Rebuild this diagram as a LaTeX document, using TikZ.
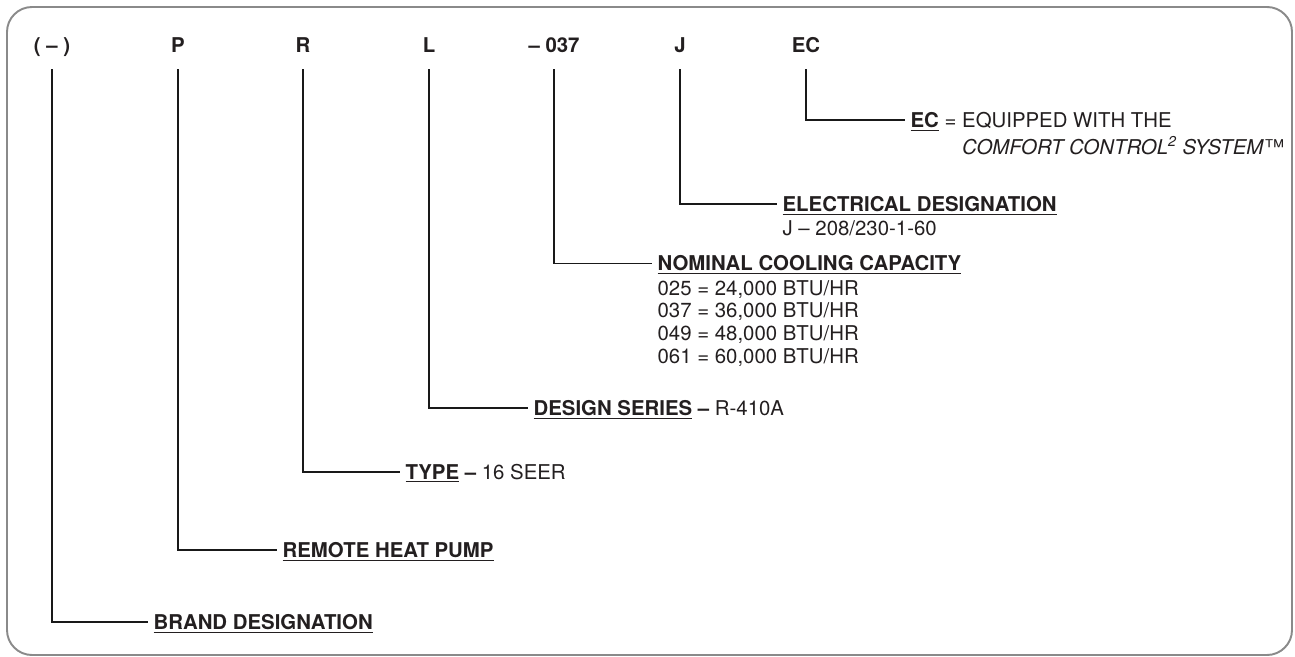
\documentclass[tikz,border=0pt]{standalone}
\usepackage{fontspec}
\setmainfont{TeX Gyre Heros}
\usetikzlibrary{positioning}
\usepackage{xcolor}
\definecolor{txtcol}{HTML}{231F20}
\definecolor{framecol}{HTML}{8A8A8A}
\newcommand{\ulbf}[1]{\underline{\textbf{#1}}}

\begin{document}
\begin{tikzpicture}[every node/.style={font=\fontsize{11.6}{12.9}\selectfont, text=txtcol},
    code/.style={font=\fontsize{11.6}{13}\selectfont\bfseries, inner sep=0pt,
      text depth=0pt, anchor=base},
    hd/.style={inner xsep=3pt, inner ysep=0pt, text height=8.4pt, text depth=0pt, anchor=west},
    sub/.style={inner xsep=3pt, inner ysep=0pt, align=left, anchor=north west},
    link/.style={draw=black!90, line width=0.6pt, shorten <=0.32cm}]
  \useasboundingbox (0,0) rectangle (25.9,-13.14);
  % frame
  \draw[framecol, line width=1.1pt, rounded corners=0.5cm]
    (0.14,-0.14) rectangle (25.84,-13.1);

  % model number letters
  \node[code] (cBrand)  at (1.04,-1.06)  {( – )};
  \node[code] (cPump)   at (3.56,-1.06)  {P};
  \node[code] (cType)   at (6.06,-1.06)  {R};
  \node[code] (cSeries) at (8.58,-1.06)  {L};
  \node[code] (cCap)    at (11.08,-1.06) {– 037};
  \node[code] (cElec)   at (13.60,-1.06) {J};
  \node[code] (cEC)     at (16.12,-1.06) {EC};

  % descriptions
  \node[hd] (hdEC) at (18.10,-2.40) {\ulbf{EC} = EQUIPPED WITH THE};
  \node[sub] (subEC) at ([yshift=-5pt]hdEC.south west)
    {\phantom{\ulbf{EC} = }\textit{COMFORT CONTROL\textsuperscript{2} SYSTEM}\texttrademark};
  \node[hd] (hdElec) at (15.54,-4.08) {\ulbf{ELECTRICAL DESIGNATION}};
  \node[sub] (subElec) at ([yshift=-5pt]hdElec.south west) {J – 208/230-1-60};
  \node[hd] (hdCap) at (13.04,-5.27) {\ulbf{NOMINAL COOLING CAPACITY}};
  \node[sub] (subCap) at ([yshift=-5pt]hdCap.south west)
    {025 = 24,000 BTU/HR\\037 = 36,000 BTU/HR\\049 = 48,000 BTU/HR\\061 = 60,000 BTU/HR};
  \node[hd] (hdSeries) at (10.56,-8.16) {\ulbf{DESIGN SERIES} \textbf{–} R-410A};
  \node[hd] (hdType)   at (8.00,-9.44)  {\ulbf{TYPE} \textbf{–} 16 SEER};
  \node[hd] (hdPump)   at (5.54,-11.00) {\ulbf{REMOTE HEAT PUMP}};
  \node[hd] (hdBrand)  at (2.96,-12.44) {\ulbf{BRAND DESIGNATION}};

  % leaders
  \draw[link] (cEC.south)     |- (hdEC.west);
  \draw[link] (cElec.south)   |- (hdElec.west);
  \draw[link] (cCap.south)    |- (hdCap.west);
  \draw[link] (cSeries.south) |- (hdSeries.west);
  \draw[link] (cType.south)   |- (hdType.west);
  \draw[link] (cPump.south)   |- (hdPump.west);
  \draw[link] (cBrand.south)  |- (hdBrand.west);
\end{tikzpicture}
\end{document}
